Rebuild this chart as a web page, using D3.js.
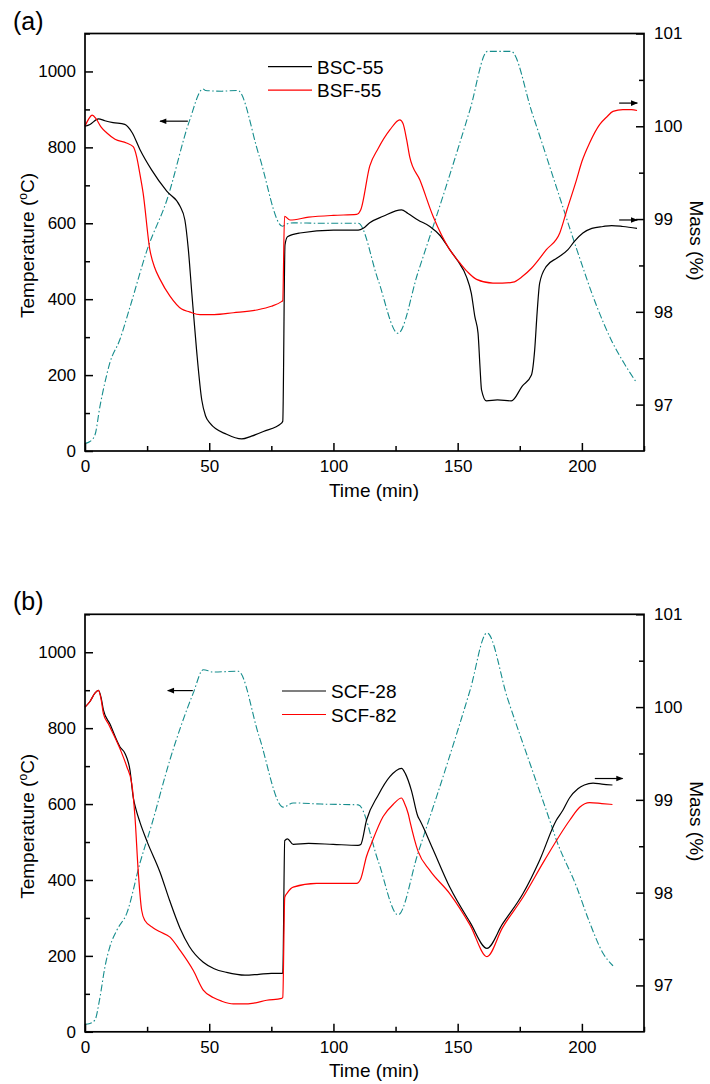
<!DOCTYPE html>
<html><head><meta charset="utf-8">
<script src="https://cdn.jsdelivr.net/npm/d3@7"></script>
<style>
html,body{margin:0;padding:0;background:#fff;}
text{font-family:"Liberation Sans",Arial,sans-serif;fill:#000;}
</style></head>
<body>
<svg id="chart" width="710" height="1084"></svg>
<script>
// ---------- DATA ----------
const xTicks = [0, 50, 100, 150, 200];
const tempTicks = [0, 200, 400, 600, 800, 1000];
const massTicks = [97, 98, 99, 100, 101];

// Panel (a): temperature program (left axis)
const tempA_t = [0,2,4,6,8,10,14,18,25,33,42,47.5,48.5,55,61.5,70,79.5,81,84,95,110,118,126,134,145,155,162,171.5,180,190,198,206,212,217,222];
const tempA_T = [20,25,42,117,180,232,293,377,530,662,869,954,950,948,950,780,592,598,601,600,600,450,310,470,690,900,1053,1053,890,690,530,381,290,231,180];
// BSC-55 mass (right axis)
const bsc55_t = [0,2,5.4,8,11.3,16,19,22.1,26.8,32.9,38.2,40.2,41.6,43,44.9,47,48.5,50.3,57,63.1,67,71.8,79.1,79.6,80.5,81.5,86.5,100,110,112,114.6,120,127.4,130,134,138.8,143,146.8,150,153.5,155.5,156.9,158.2,159,159.6,161.6,166,171.6,176,179.7,181,182,183,185.7,190,194.4,197,200.4,204,208.5,212,216.5,222.2];
const bsc55_m = [100.0,100.02,100.08,100.06,100.04,100.02,99.93,99.75,99.53,99.30,99.14,98.99,98.67,98.2,97.59,97.05,96.88,96.80,96.68,96.63,96.66,96.71,96.80,96.82,98.72,98.81,98.85,98.88,98.88,98.90,98.96,99.03,99.10,99.06,98.99,98.92,98.82,98.67,98.55,98.38,98.2,97.95,97.77,97.4,97.16,97.04,97.05,97.04,97.2,97.32,97.59,98.0,98.31,98.49,98.58,98.67,98.76,98.85,98.90,98.92,98.93,98.92,98.90];
// BSF-55 mass (right axis)
const bsf55_t = [0,1.5,2.9,4.5,6.5,8.7,12.1,16.7,19.4,20.8,22,23.4,26.1,28,30.2,34.2,38.9,42,46.3,52,59.7,69.1,75,79.1,79.6,80.3,82.5,90,100,109.3,111,114.6,118,122.7,126.7,128,129.5,130.7,134.8,140.1,146.8,150.8,154,157.6,164.2,168,172.3,176,179.7,185.7,191.1,194,197.8,200,203.1,207.2,210,212.5,216.5,220,222.2];
const bsf55_m = [100.0,100.08,100.12,100.08,99.99,99.93,99.86,99.82,99.78,99.67,99.5,99.28,98.67,98.48,98.35,98.17,98.03,98.0,97.97,97.97,97.99,98.02,98.06,98.11,98.12,99.03,98.99,99.02,99.04,99.05,99.1,99.57,99.76,99.96,100.07,100.03,99.85,99.67,99.42,99.03,98.67,98.53,98.43,98.35,98.31,98.31,98.32,98.38,98.47,98.67,98.85,99.1,99.42,99.62,99.82,100.02,100.1,100.16,100.18,100.18,100.17];

// Panel (b): temperature program (left axis)
const tempB_t = [0,2,4,6,8,10,13,16.8,22.1,26.8,34.2,43.6,47.6,51.6,61.7,70,79.8,83.8,95,110,118,126,134,145,155,161.8,170,180,187,189.7,197.8,203,208.5,212.5];
const tempB_T = [20,22,31,90,170,224,270,312,444,545,717,893,954,948,950,780,592,603,600,598,450,308,470,690,900,1051,880,690,558,506,383,290,207,174];
// SCF-28 mass (right axis)
const scf28_t = [0,2,4,5.4,6.5,7.4,10,14.1,16.1,18.1,19.4,20.5,22.1,25,30.2,34,38.2,42,47.6,52,57,64.4,70,75,79.1,79.6,80.4,81.5,83.8,90,99.9,109.9,111,113.3,118,122.7,127.4,129,131.4,134,134.8,140,146.8,155,161.8,168,176.3,183,189.7,192.4,195,198.4,201,204.5,208,212.3];
const scf28_m = [100.0,100.06,100.15,100.18,100.1,99.97,99.82,99.57,99.50,99.32,99.03,98.9,98.76,98.55,98.22,97.92,97.62,97.42,97.25,97.18,97.14,97.11,97.12,97.13,97.13,97.13,98.56,98.58,98.52,98.53,98.52,98.51,98.52,98.78,99.05,99.25,99.34,99.28,99.10,98.82,98.78,98.47,98.06,97.68,97.40,97.66,97.99,98.35,98.78,98.89,99.02,99.12,99.16,99.18,99.17,99.16];
// SCF-82 mass (right axis)
const scf82_t = [0,2,4,5.4,6.5,7.4,9.4,14.1,16.8,18.8,20.1,21.4,22.8,24.1,27.5,30,34.2,38.2,43.6,47.6,51.6,55,59.7,63.7,68,73.1,79.1,79.6,80.4,81.5,83.8,93.2,109.3,111,113.3,115.3,120,124,127.4,128.5,130.1,130.7,134,138.8,146.8,155,161.8,168,176.3,185,195.1,199.1,203.1,208,212.3];
const scf82_m = [100.0,100.06,100.15,100.18,100.08,99.93,99.82,99.55,99.36,99.18,98.82,98.24,97.81,97.70,97.62,97.58,97.52,97.38,97.16,96.95,96.87,96.83,96.80,96.80,96.81,96.84,96.86,96.87,97.95,98.0,98.06,98.10,98.10,98.15,98.39,98.53,98.82,98.95,99.02,98.97,98.85,98.78,98.45,98.24,97.99,97.65,97.31,97.62,97.95,98.35,98.78,98.92,98.97,98.96,98.95];

// annotation arrows [t1, t2, value, axis]  (drawn from t1 to t2, head at t2)
const arrowsA = [[41.4, 30.2, 869, "L"], [215, 222.3, 100.25, "R"], [215, 222.3, 98.99, "R"]];
const arrowsB = [[43.4, 33.3, 899, "L"], [205.2, 216.4, 99.23, "R"]];

// ---------- DRAW ----------
const svg = d3.select("#chart");
const plotLeft = 85, plotRight = 644, plotH = 417.5;
const FONT = '"Liberation Sans",Arial,sans-serif';

svg.append("defs").append("marker")
  .attr("id", "ah").attr("viewBox", "0 0 10 10").attr("refX", 9).attr("refY", 5)
  .attr("markerWidth", 10).attr("markerHeight", 7).attr("markerUnits", "userSpaceOnUse")
  .attr("orient", "auto")
  .append("path").attr("d", "M0,1 L10,5 L0,9 Z").attr("fill", "#000");

function zip(a, b) { return a.map((v, i) => [v, b[i]]); }

function panel(top, label, tempT, tempV, s1, s2, names, arrows) {
  const x = d3.scaleLinear().domain([0, 225]).range([plotLeft, plotRight]);
  const yL = d3.scaleLinear().domain([0, 1100]).range([top + plotH, top]);
  const yR = d3.scaleLinear().domain([96.5, 101]).range([top + plotH, top]);
  const g = svg.append("g");
  const fmt = d3.format("d");

  // series
  const lineT = d3.line().x(d => x(d[0])).y(d => yL(d[1])).curve(d3.curveMonotoneX);
  const lineM = d3.line().x(d => x(d[0])).y(d => yR(d[1])).curve(d3.curveMonotoneX);
  g.append("path").datum(zip(tempT, tempV)).attr("d", lineT)
    .attr("fill", "none").attr("stroke", "#168d8d").attr("stroke-width", 1.1)
    .attr("stroke-dasharray", "7,2.5,1.5,2.5");
  g.append("path").datum(zip(s1[0], s1[1])).attr("d", lineM)
    .attr("fill", "none").attr("stroke", "#000").attr("stroke-width", 1.2);
  g.append("path").datum(zip(s2[0], s2[1])).attr("d", lineM)
    .attr("fill", "none").attr("stroke", "#ff0000").attr("stroke-width", 1.2);

  // axes (inward ticks)
  g.append("g").attr("transform", `translate(0,${top + plotH})`)
    .call(d3.axisBottom(x).tickValues(xTicks).tickFormat(fmt).tickSizeInner(-8).tickSizeOuter(0).tickPadding(9));
  g.append("g").attr("transform", `translate(0,${top + plotH})`)
    .call(d3.axisBottom(x).tickValues([25, 75, 125, 175, 225]).tickSizeInner(-5).tickSizeOuter(0).tickFormat(""));
  g.append("g").attr("transform", `translate(${plotLeft},0)`)
    .call(d3.axisLeft(yL).tickValues(tempTicks).tickFormat(fmt).tickSizeInner(-8).tickSizeOuter(0).tickPadding(9));
  g.append("g").attr("transform", `translate(${plotLeft},0)`)
    .call(d3.axisLeft(yL).tickValues([100, 300, 500, 700, 900, 1100]).tickSizeInner(-5).tickSizeOuter(0).tickFormat(""));
  g.append("g").attr("transform", `translate(${plotRight},0)`)
    .call(d3.axisRight(yR).tickValues(massTicks).tickFormat(fmt).tickSizeInner(-8).tickSizeOuter(0).tickPadding(10));
  g.append("g").attr("transform", `translate(${plotRight},0)`)
    .call(d3.axisRight(yR).tickValues([97.5, 98.5, 99.5, 100.5]).tickSizeInner(-5).tickSizeOuter(0).tickFormat(""));
  g.selectAll(".tick line").attr("stroke", "#000").attr("stroke-width", 1.5);
  g.selectAll(".domain").attr("stroke", "none");
  g.selectAll(".tick text").attr("font-size", 17).attr("font-family", FONT).attr("fill", "#000");

  // frame
  g.append("rect").attr("x", plotLeft).attr("y", top).attr("width", plotRight - plotLeft).attr("height", plotH)
    .attr("fill", "none").attr("stroke", "#000").attr("stroke-width", 1.7);

  // arrows
  arrows.forEach(a => {
    const yy = a[3] === "L" ? yL(a[2]) : yR(a[2]);
    g.append("line").attr("x1", x(a[0])).attr("x2", x(a[1])).attr("y1", yy).attr("y2", yy)
      .attr("stroke", "#000").attr("stroke-width", 1.2).attr("marker-end", "url(#ah)");
  });

  // legend
  const lg = names.pos;
  names.items.forEach((n, i) => {
    const yy = lg[1] + i * 23.5;
    g.append("line").attr("x1", lg[0]).attr("x2", lg[0] + 44).attr("y1", yy).attr("y2", yy)
      .attr("stroke", n[1]).attr("stroke-width", 1.2);
    g.append("text").attr("x", lg[0] + 49).attr("y", yy + 7).attr("font-size", 19).text(n[0]);
  });

  // titles
  g.append("text").attr("x", 374).attr("y", top + 463).attr("text-anchor", "middle")
    .attr("font-size", 19).text("Time (min)");
  const tt = g.append("text").attr("transform", `translate(34,${top + 212}) rotate(-90)`)
    .attr("text-anchor", "middle").attr("font-size", 19);
  tt.append("tspan").text("Temperature (");
  tt.append("tspan").attr("font-size", 12).attr("dy", -7).text("o");
  tt.append("tspan").attr("dy", 7).text("C)");
  g.append("text").attr("transform", `translate(690,${top + 207}) rotate(90)`)
    .attr("text-anchor", "middle").attr("font-size", 19).text("Mass (%)");
  g.append("text").attr("x", 13).attr("y", top - 4).attr("font-size", 25).text(label);
}

panel(33.5, "(a)", tempA_t, tempA_T, [bsc55_t, bsc55_m], [bsf55_t, bsf55_m],
  { pos: [268, 66.7], items: [["BSC-55", "#000"], ["BSF-55", "#ff0000"]] }, arrowsA);
panel(614.3, "(b)", tempB_t, tempB_T, [scf28_t, scf28_m], [scf82_t, scf82_m],
  { pos: [282, 691], items: [["SCF-28", "#000"], ["SCF-82", "#ff0000"]] }, arrowsB);
</script>
</body></html>
